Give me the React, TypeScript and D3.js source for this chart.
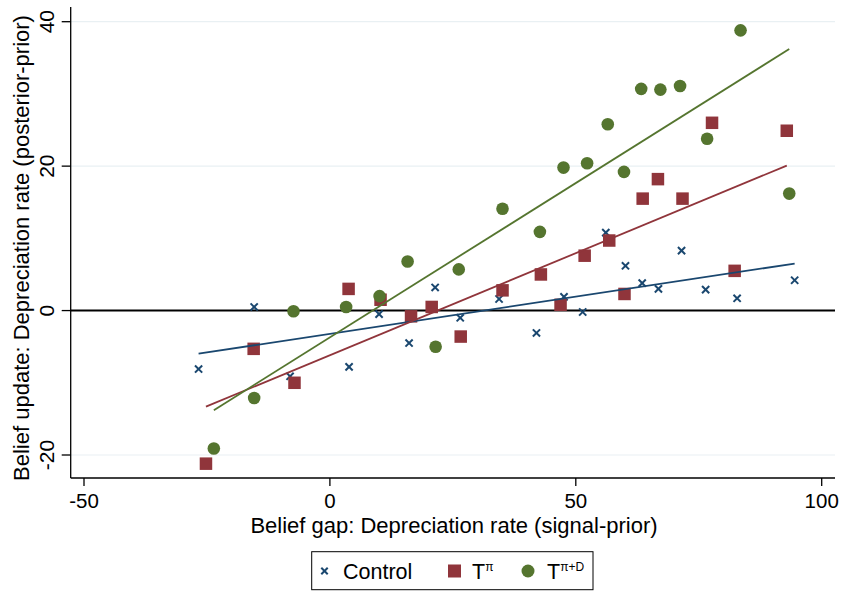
import React from "react";
import * as d3 from "d3";

// Binned scatter: belief gap (x) vs belief update (y)
const controlX = [-26.7, -15.4, -8.1, 3.9, 10.0, 16.1, 21.4, 26.5, 34.4, 42.0, 47.6, 51.4, 56.1, 60.1, 63.5, 66.8, 71.5, 76.4, 82.8, 94.5];
const controlY = [-8.1, 0.5, -9.1, -7.8, -0.5, -4.5, 3.2, -1.0, 1.6, -3.1, 1.9, -0.2, 10.8, 6.2, 3.8, 3.0, 8.3, 2.9, 1.7, 4.2];

const tpiX = [-25.2, -15.5, -7.2, 3.8, 10.3, 16.5, 20.7, 26.6, 35.1, 42.9, 46.9, 51.8, 56.8, 59.9, 63.6, 66.7, 71.7, 77.7, 82.3, 92.9];
const tpiY = [-21.2, -5.3, -10.0, 3.0, 1.5, -0.8, 0.5, -3.6, 2.8, 5.0, 0.8, 7.6, 9.7, 2.3, 15.5, 18.2, 15.5, 26.0, 5.5, 24.9];

const tpidX = [-23.6, -15.4, -7.4, 3.3, 10.1, 15.8, 21.5, 26.2, 35.1, 42.7, 47.5, 52.3, 56.5, 59.8, 63.3, 67.2, 71.2, 76.7, 83.5, 93.4];
const tpidY = [-19.1, -12.1, -0.1, 0.5, 2.0, 6.8, -5.0, 5.7, 14.1, 10.9, 19.8, 20.4, 25.8, 19.2, 30.7, 30.6, 31.1, 23.8, 38.8, 16.2];

// Linear fits (intercept, slope) per series
const fitIntercepts = [-3.22, -6.18, -3.71];
const fitSlopes = [0.103, 0.2826, 0.4274];

const xTicks = [-50, 0, 50, 100];
const yTicks = [-20, 0, 20, 40];

const seriesNames = ["Control", "T", "T"];
const seriesSup = ["", "π", "π+D"];
const colors = ["#1a476f", "#90353b", "#55752f"];

const FONT = "'Liberation Sans', Arial, Helvetica, sans-serif";

export default function App() {
  const W = 842;
  const H = 591;
  const left = 70.7, right = 835, top = 7, bottom = 478;
  const x = d3.scaleLinear().domain([-50, 100]).range([84, 821.7]);
  const y = d3.scaleLinear().domain([-20, 40]).range([455, 21.7]);

  const series = [
    { xs: controlX, ys: controlY },
    { xs: tpiX, ys: tpiY },
    { xs: tpidX, ys: tpidY },
  ];

  const line = d3.line<[number, number]>().x((d) => x(d[0])).y((d) => y(d[1]));

  const cross = (cx: number, cy: number, key: string, color: string, s = 3.6) => (
    <g key={key} stroke={color} strokeWidth={2}>
      <line x1={cx - s} y1={cy - s} x2={cx + s} y2={cy + s} />
      <line x1={cx - s} y1={cy + s} x2={cx + s} y2={cy - s} />
    </g>
  );
  const square = (cx: number, cy: number, key: string, color: string, s = 12.5) => (
    <rect key={key} x={cx - s / 2} y={cy - s / 2} width={s} height={s} fill={color} />
  );
  const circle = (cx: number, cy: number, key: string, color: string, r = 6.3) => (
    <circle key={key} cx={cx} cy={cy} r={r} fill={color} />
  );
  const markers = [cross, square, circle];

  const legendY = 571;
  const legendItems = [
    { mx: 324.5, tx: 343 },
    { mx: 454.5, tx: 472 },
    { mx: 528, tx: 547 },
  ];

  return (
    <div style={{ position: "fixed", left: 0, top: 0 }}>
      <svg width={W} height={H} style={{ display: "block", background: "#fff" }} fontFamily={FONT}>
        <rect x={0} y={0} width={W} height={H} fill="#fff" />
        {/* gridlines */}
        {yTicks.filter((t) => t !== 0).map((t) => (
          <line key={"g" + t} x1={left} x2={right} y1={y(t)} y2={y(t)} stroke="#e9f0f3" strokeWidth={1.2} />
        ))}
        {/* zero line */}
        <line x1={left} x2={right} y1={y(0)} y2={y(0)} stroke="#000" strokeWidth={2} />
        {/* axes */}
        <line x1={left} x2={left} y1={top} y2={bottom} stroke="#000" strokeWidth={1.3} />
        <line x1={left} x2={right} y1={bottom} y2={bottom} stroke="#000" strokeWidth={1.3} />
        {xTicks.map((t) => (
          <g key={"xt" + t}>
            <line x1={x(t)} x2={x(t)} y1={bottom} y2={bottom + 8} stroke="#000" strokeWidth={1.3} />
            <text x={x(t)} y={508} fontSize={20.5} textAnchor="middle" fill="#000">{t}</text>
          </g>
        ))}
        {yTicks.map((t) => (
          <g key={"yt" + t}>
            <line x1={left - 9} x2={left} y1={y(t)} y2={y(t)} stroke="#000" strokeWidth={1.3} />
            <text transform={`translate(54,${y(t)}) rotate(-90)`} fontSize={21} textAnchor="middle" fill="#000">{t}</text>
          </g>
        ))}
        <text x={454} y={533} fontSize={22} textAnchor="middle" fill="#000">Belief gap: Depreciation rate (signal-prior)</text>
        <text transform={`translate(29,${248}) rotate(-90)`} fontSize={22} textAnchor="middle" fill="#000">
          Belief update: Depreciation rate (posterior-prior)
        </text>
        {/* points */}
        {series.map((s, i) =>
          s.xs.map((xv, j) => markers[i](x(xv), y(s.ys[j]), `p${i}-${j}`, colors[i]))
        )}
        {/* fit lines */}
        {series.map((s, i) => {
          const x0 = d3.min(s.xs) as number;
          const x1 = d3.max(s.xs) as number;
          const pts: [number, number][] = [
            [x0, fitIntercepts[i] + fitSlopes[i] * x0],
            [x1, fitIntercepts[i] + fitSlopes[i] * x1],
          ];
          return <path key={"f" + i} d={line(pts) || ""} stroke={colors[i]} strokeWidth={1.8} fill="none" />;
        })}
        {/* legend */}
        <rect x={311.7} y={551.7} width={281.3} height={38} fill="#fff" stroke="#000" strokeWidth={1} />
        {legendItems.map((it, i) => (
          <g key={"l" + i}>
            {i === 0 && cross(it.mx, legendY, "lm0", colors[0], 3.2)}
            {i === 1 && square(it.mx, legendY, "lm1", colors[1], 13)}
            {i === 2 && circle(it.mx, legendY, "lm2", colors[2], 6.5)}
            <text x={it.tx} y={legendY + 7.5} fontSize={21.5} fill="#000">
              {seriesNames[i]}
              {seriesSup[i] && (
                <tspan fontSize={12} dy={-8}>{seriesSup[i]}</tspan>
              )}
            </text>
          </g>
        ))}
      </svg>
    </div>
  );
}
